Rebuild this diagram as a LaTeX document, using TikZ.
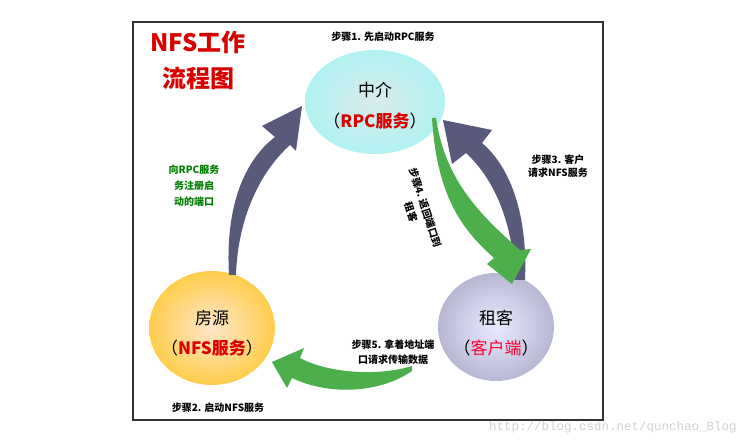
\documentclass[tikz,border=0pt]{standalone}
\usepackage{fontspec}
\setmainfont{Noto Sans CJK SC}
\newfontfamily\wmfont{Liberation Mono}
\begin{document}
\begin{tikzpicture}[x=1pt,y=-1pt,
  lbl/.style={font=\fontsize{10}{13}\selectfont\bfseries, align=center, inner sep=0pt},
  big/.style={font=\fontsize{17}{19}\selectfont, align=center, inner sep=0pt},
  greyarrow/.style={fill=black!55!blue!30!gray, draw=none},
  greenarrow/.style={fill=green!55!black!70!white, draw=none}]
\useasboundingbox (0,0) rectangle (742,446);
\draw[black!80, line width=2pt, fill=white] (133,22) rectangle (603,420);
% ellipses
\shade[inner color=teal!15, outer color=teal!35!cyan!30!white] (375,102) ellipse [x radius=70, y radius=52];
\shade[inner color=orange!20, outer color=orange!55!yellow!70!white] (212,328) ellipse [x radius=63, y radius=57];
\shade[inner color=blue!8, outer color=blue!25!gray!45!white] (496,327) ellipse [x radius=58, y radius=54];
\node (mid) at (375,102) {};
\node (left) at (212,328) {};
\node (right) at (496,327) {};
% grey arrows
\fill[greyarrow] (229,275) .. controls (225,205) and (245,160) .. (275,137)
  -- (262,126) -- (302,106) -- (296,151) -- (290,145)
  .. controls (262,170) and (238,215) .. (236,275) -- cycle;
\fill[greyarrow] (525,280) .. controls (528,210) and (508,165) .. (482,143)
  -- (492,130) -- (443,120) -- (452,164) -- (466,153)
  .. controls (493,178) and (513,220) .. (515,280) -- cycle;
% green arrows
\fill[greenarrow] (432,118) .. controls (437,200) and (465,232) .. (494,258)
  -- (487,264) -- (512,284) -- (531,249) -- (520,250)
  .. controls (480,215) and (445,180) .. (436,118) -- cycle;
\fill[greenarrow] (412,366) .. controls (380,376) and (330,374) .. (300,358)
  -- (304,348) -- (272,362) -- (287,388) -- (292,378)
  .. controls (330,396) and (380,393) .. (412,371) -- cycle;
% ellipse texts
\node[big] (t1) at (375,90) {中介};
\node[big] (t1b) at (375,121) {（{\color{red!85!black}\bfseries RPC服务}）};
\node[big] (t2) at (212,318) {房源};
\node[big] (t2b) at (212,348) {（{\color{red!85!black}\bfseries NFS服务}）};
\node[big] (t3) at (496,318) {租客};
\node[big] (t3b) at (496,348) {（{\color{red!80!magenta}客户端}）};
% title
\node[font=\fontsize{24}{36}\selectfont\bfseries, text=red!85!black, align=center, inner sep=0pt] (title) at (198,60) {NFS工作\\流程图};
% labels
\node[lbl] (s1) at (383,37) {步骤1. 先启动RPC服务};
\node[lbl] (s2) at (218,408) {步骤2. 启动NFS服务};
\node[lbl] (s3) at (558,166) {步骤3. 客户\\请求NFS服务};
\node[lbl, text=green!50!black, font=\fontsize{10}{16}\selectfont\bfseries] (reg) at (194,186) {向RPC服务\\务注册启\\动的端口};
\node[lbl, rotate=-72, font=\fontsize{10}{15}\selectfont\bfseries] (s4) at (418,210) {步骤4. 返回端口到\\租客};
\node[lbl, font=\fontsize{10}{15}\selectfont\bfseries] (s5) at (393,352) {步骤5. 拿着地址端\\口请求传输数据};
\node[font=\wmfont\fontsize{12.5}{13}\selectfont, text=black!18, inner sep=0pt] (wm) at (613,427) {http://blog.csdn.net/qunchao\_Blog};
\end{tikzpicture}
\end{document}
